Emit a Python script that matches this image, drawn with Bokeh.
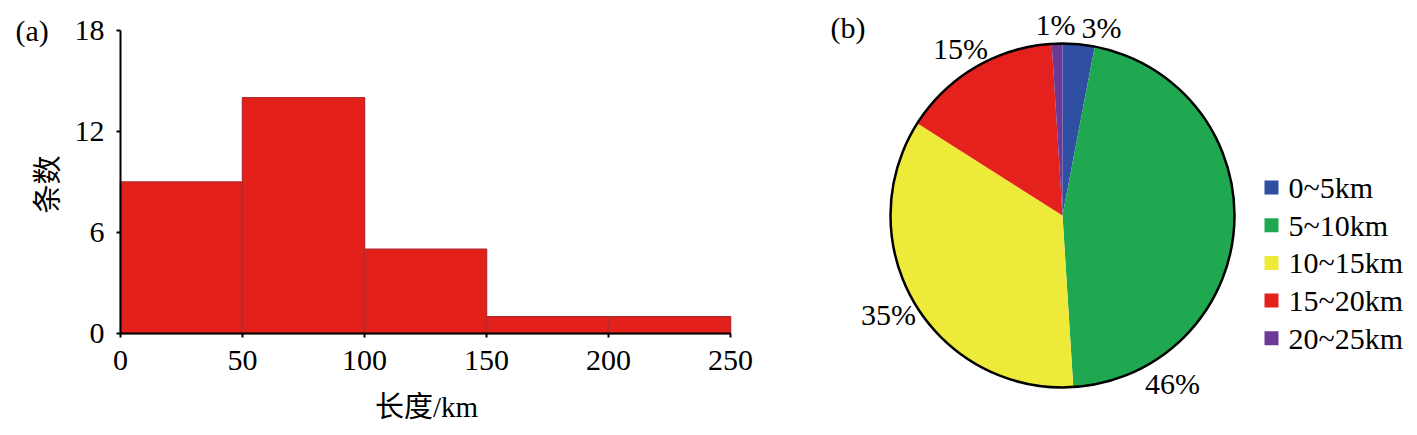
import numpy as np
from bokeh.plotting import figure
from bokeh.models import Range1d, FixedTicker, Label, ColumnDataSource, LinearAxis
from bokeh.core.properties import value
from bokeh.embed import file_html
from bokeh.resources import INLINE

# ---- data ----
bin_edges = [0, 50, 100, 150, 200, 250]
counts = [9, 14, 5, 1, 1]
y_ticks = [0, 6, 12, 18]
x_ticks = [0, 50, 100, 150, 200, 250]

categories = ["0~5km", "5~10km", "10~15km", "15~20km", "20~25km"]
percents = [3, 46, 35, 15, 1]
pie_colors = ["#2f4fa2", "#1fa84f", "#eeea3a", "#e4211c", "#6b3a98"]

FONT = "Liberation Serif, Noto Sans CJK SC"

# ---- layout constants (pixels) ----
W, H = 1417, 435
FL, FBB = 12, 12                  # frame left / bottom border
FB = H - FBB                      # frame bottom (px from top)
AX_L, AX_R = 120, 730             # histogram x axis pixel span
AX_T, AX_B = 30, 333              # histogram y axis pixel span

xppu = (AX_R - AX_L) / (bin_edges[-1] - bin_edges[0])
yppu = (AX_B - AX_T) / (y_ticks[-1] - y_ticks[0])
x0 = -(AX_L - FL) / xppu
x_rng = Range1d(x0, x0 + (W - FL) / xppu)
y_rng = Range1d(-(FB - AX_B) / yppu, y_ticks[-1] + AX_T / yppu)

p = figure(width=W, height=H, x_range=x_rng, y_range=y_rng, title=None,
           output_backend="svg", toolbar_location=None,
           x_axis_type=None, y_axis_type=None,
           min_border_left=FL, min_border_right=0, min_border_top=0,
           min_border_bottom=FBB)
p.outline_line_color = None
p.grid.visible = False

# pixel coordinate ranges for pie and free text
p.extra_x_ranges = {"px": Range1d(FL, W)}
p.extra_y_ranges = {"py": Range1d(H - FB, H)}

# ---- histogram ----
p.quad(left=bin_edges[:-1], right=bin_edges[1:], bottom=0, top=counts,
       fill_color="#e4201b", line_color="#b72a2e", line_width=1.5)

# axes: tick marks drawn as (label-less) minor ticks at the tick values
yaxis = LinearAxis(ticker=FixedTicker(ticks=[], minor_ticks=y_ticks),
                   bounds=(y_ticks[0], y_ticks[-1]), fixed_location=0)
xaxis = LinearAxis(ticker=FixedTicker(ticks=[], minor_ticks=x_ticks),
                   bounds=(x_ticks[0], x_ticks[-1]), fixed_location=0)
for ax in (xaxis, yaxis):
    ax.axis_line_width = 2
    ax.axis_line_color = "black"
    ax.major_tick_line_color = None
    ax.minor_tick_in = 0
    ax.minor_tick_out = 4
    ax.minor_tick_line_width = 2
    ax.minor_tick_line_color = "black"
p.add_layout(yaxis, "left")
p.add_layout(xaxis, "below")

# tick labels placed at the tick values through the plot scales
p.text(x=[0] * len(y_ticks), y=y_ticks, text=[str(t) for t in y_ticks],
       text_font=value(FONT), text_font_size="30px", text_align="right",
       text_baseline="middle", x_offset=-16, text_color="black")
p.text(x=x_ticks, y=[0] * len(x_ticks), text=[str(t) for t in x_ticks],
       text_font=value(FONT), text_font_size="30px", text_align="center",
       text_baseline="middle", y_offset=27, text_color="black")

def txt(x, y, s, size="30px", align="left", angle=0.0):
    p.add_layout(Label(x=x, y=y, x_range_name="px", y_range_name="py", text=s,
                       text_font=FONT, text_font_size=size, text_align=align,
                       text_baseline="middle", text_color="black", angle=angle))

txt(15, H - 30, "(a)")
txt(47, H - 184, "条数", size="29px", align="center", angle=np.pi / 2)
txt(426, H - 406, "长度/km", size="29px", align="center")

# ---- pie ----
cx, cy, R = 1062, H - 215, 172
frac = np.array(percents, dtype=float) / sum(percents)
cum = np.concatenate([[0], np.cumsum(frac)])
src = ColumnDataSource(dict(start=np.pi / 2 - 2 * np.pi * cum[:-1],
                            end=np.pi / 2 - 2 * np.pi * cum[1:],
                            color=pie_colors))
p.wedge(x=cx, y=cy, radius=R, start_angle="start", end_angle="end", direction="clock",
        fill_color="color", line_color=None, source=src,
        x_range_name="px", y_range_name="py")
p.circle(x=[cx], y=[cy], radius=R, fill_color=None, line_color="black", line_width=2.5,
         x_range_name="px", y_range_name="py")

# percentage label positions (page px)
lab_x = [1101, 1172, 888, 960, 1055]
lab_y = [27, 383, 314, 48, 24]
p.text(x=lab_x, y=[H - v for v in lab_y], text=[f"{v}%" for v in percents],
       text_font=value(FONT), text_font_size="30px", text_align="center",
       text_baseline="middle", text_color="black", x_range_name="px", y_range_name="py")

txt(830, H - 27, "(b)")

# legend
leg_y = [H - (187 + 37.7 * i) for i in range(len(categories))]
p.scatter(x=[1271] * len(categories), y=leg_y, marker="square", size=14,
          fill_color=pie_colors, line_color=None, x_range_name="px", y_range_name="py")
p.text(x=[1288] * len(categories), y=leg_y, text=categories, text_font=value(FONT),
       text_font_size="30px", text_align="left", text_baseline="middle",
       text_color="black", x_range_name="px", y_range_name="py")

open("out.html", "w").write(file_html(p, INLINE))
